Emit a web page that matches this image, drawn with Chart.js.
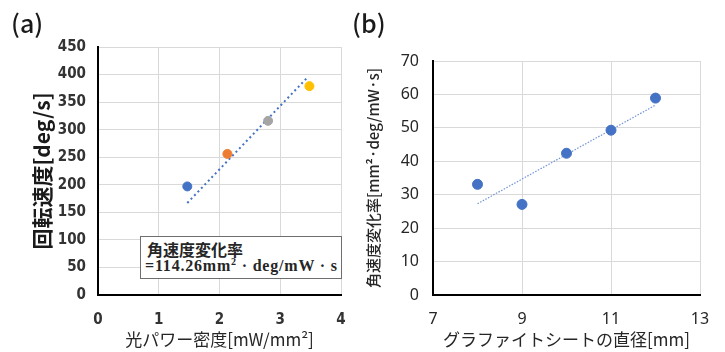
<!DOCTYPE html>
<html>
<head>
<meta charset="utf-8">
<script src="https://cdn.jsdelivr.net/npm/chart.js@4"></script>
<style>
  body { margin: 0; background: #fff; width: 725px; height: 352px; position: relative; overflow: hidden; }
  canvas { position: absolute; top: 0; }
  #chartA { left: 0; }
  #chartB { left: 362px; }
  .panel { position: absolute; top: 4px; font: 500 25px "Noto Sans CJK JP", sans-serif; color: #1a1a1a; }
  #note {
    position: absolute; left: 140px; top: 236px; width: 202px; height: 43px;
    border: 1px solid #6e6e6e; background: #fff; box-sizing: border-box;
  }
  #note .l1 { position: absolute; left: 6px; top: 0px; font: bold 16px "Noto Sans CJK JP", sans-serif; color: #262626; }
  #note .l2 { position: absolute; left: 4px; top: 19px; font: bold 16px "Liberation Serif", serif; letter-spacing: 0.8px; color: #262626; white-space: nowrap; }
</style>
</head>
<body>
<canvas id="chartA" width="362" height="352"></canvas>
<canvas id="chartB" width="363" height="352"></canvas>
<div class="panel" style="left:11px">(a)</div>
<div class="panel" style="left:352px">(b)</div>
<div id="note">
  <div class="l1">角速度変化率</div>
  <div class="l2">=114.26mm<sup style="font-size:10px">2</sup> · deg/mW · s</div>
</div>
<script>
// (a) light power density vs rotation speed
var powerDensity = [1.47, 2.13, 2.80, 3.48];
var rotationSpeed = [197, 256, 316, 379];
var pointColorsA = ['#4472C4', '#ED7D31', '#A5A5A5', '#FFC000'];
var trendAX = [1.47, 3.45];
var trendAY = [167, 395];
var ticksAX = [0, 1, 2, 3, 4];
var ticksAY = [0, 50, 100, 150, 200, 250, 300, 350, 400, 450];

// (b) graphite sheet diameter vs angular speed change rate
var sheetDiameter = [8, 9, 10, 11, 12];
var angularRate = [33.1, 27.1, 42.4, 49.3, 58.9];
var trendBX = [8, 12];
var trendBY = [27.3, 56.8];
var ticksBX = [7, 9, 11, 13];
var ticksBY = [0, 10, 20, 30, 40, 50, 60, 70];

var gridColor = '#d9d9d9';

function toPoints(xs, ys) {
    return xs.map(function (x, i) { return { x: x, y: ys[i] }; });
}

function fixedTicks(values) {
    return function (axis) {
        axis.ticks = values.map(function (v) { return { value: v }; });
    };
}

// chart (a)
var datasetsA = powerDensity.map(function (x, i) {
    return {
        data: [{ x: x, y: rotationSpeed[i] }],
        backgroundColor: pointColorsA[i],
        borderColor: pointColorsA[i],
        pointRadius: 4.5,
        pointHoverRadius: 4.5
    };
});
datasetsA.push({
    data: toPoints(trendAX, trendAY),
    showLine: true,
    borderColor: '#4472C4',
    borderWidth: 2,
    borderDash: [2, 3],
    pointRadius: 0
});

new Chart(document.getElementById('chartA'), {
    type: 'scatter',
    data: { datasets: datasetsA },
    options: {
        responsive: false,
        animation: false,
        layout: { padding: { top: 47, right: 21, left: 0, bottom: 0 } },
        plugins: { legend: { display: false }, tooltip: { enabled: false } },
        scales: {
            x: {
                min: 0, max: 4,
                afterBuildTicks: fixedTicks(ticksAX),
                afterFit: function (s) { s.height = 57; },
                grid: { color: gridColor, drawTicks: false },
                border: { color: '#000', width: 2 },
                ticks: { padding: 16, color: '#333', font: { family: '"Liberation Sans Narrow", "DejaVu Sans Condensed", sans-serif', size: 15, weight: 'bold' } },
                title: { display: true, text: '光パワー密度[mW/mm²]', color: '#262626', padding: { top: 0, bottom: 2 }, font: { family: '"Noto Sans CJK JP"', size: 17 } }
            },
            y: {
                min: 0, max: 450,
                afterBuildTicks: fixedTicks(ticksAY),
                afterFit: function (s) { s.width = 98; },
                grid: { color: gridColor, drawTicks: false },
                border: { color: '#000', width: 2 },
                ticks: { padding: 12, color: '#333', font: { family: '"Liberation Sans Narrow", "DejaVu Sans Condensed", sans-serif', size: 15, weight: 'bold' } },
                title: { display: true, text: '回転速度[deg/s]', color: '#1a1a1a', padding: { top: 29, bottom: 0 }, font: { family: '"Noto Sans CJK JP"', size: 21, weight: 'bold' } }
            }
        }
    }
});

// chart (b)
new Chart(document.getElementById('chartB'), {
    type: 'scatter',
    data: {
        datasets: [{
            data: toPoints(sheetDiameter, angularRate),
            backgroundColor: '#4472C4',
            borderColor: '#4472C4',
            pointRadius: 5,
            pointHoverRadius: 5
        }, {
            data: toPoints(trendBX, trendBY),
            showLine: true,
            borderColor: '#6f93d4',
            borderWidth: 1.2,
            borderDash: [1.5, 1.5],
            pointRadius: 0
        }]
    },
    options: {
        responsive: false,
        animation: false,
        layout: { padding: { top: 61, right: 25, left: 0, bottom: 0 } },
        plugins: { legend: { display: false }, tooltip: { enabled: false } },
        scales: {
            x: {
                min: 7, max: 13,
                afterBuildTicks: fixedTicks(ticksBX),
                afterFit: function (s) { s.height = 57; },
                grid: { color: gridColor, drawTicks: false },
                border: { color: '#000', width: 2 },
                ticks: { padding: 15, color: '#262626', font: { family: '"Noto Sans", sans-serif', size: 16 } },
                title: { display: true, text: 'グラファイトシートの直径[mm]', color: '#262626', padding: { top: 0, bottom: 2 }, font: { family: '"Noto Sans CJK JP"', size: 17 } }
            },
            y: {
                min: 0, max: 70,
                afterBuildTicks: fixedTicks(ticksBY),
                afterFit: function (s) { s.width = 71; },
                grid: { color: gridColor, drawTicks: false },
                border: { color: '#000', width: 2 },
                ticks: { padding: 14, color: '#262626', font: { family: '"Noto Sans", sans-serif', size: 16 } },
                title: { display: true, text: '角速度変化率[mm²·deg/mW·s]', color: '#262626', padding: { top: 2, bottom: 0 }, font: { family: '"Noto Sans CJK JP"', size: 15, weight: '500' } }
            }
        }
    }
});
</script>
</body>
</html>
